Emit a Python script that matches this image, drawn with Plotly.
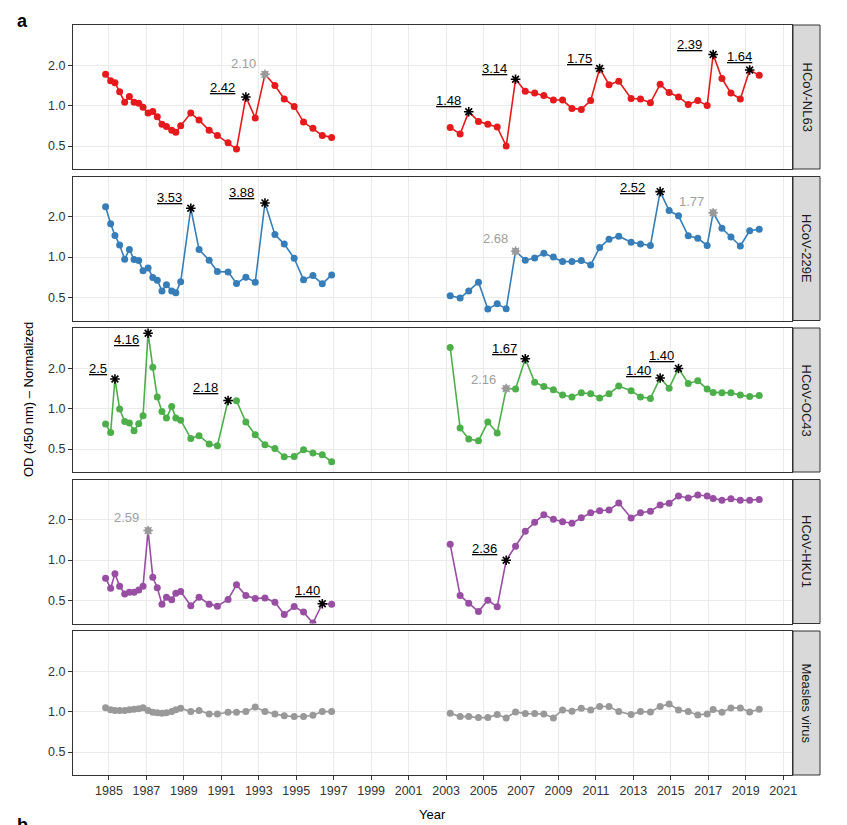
import math
import plotly.graph_objects as go
from plotly.subplots import make_subplots

# ---------------- data ----------------
DATES_EARLY = [1984.82, 1985.09, 1985.32, 1985.57, 1985.84, 1986.09, 1986.34, 1986.59, 1986.82,
               1987.09, 1987.34, 1987.58, 1987.83, 1988.07, 1988.35, 1988.57, 1988.83,
               1989.37, 1989.81, 1990.35, 1990.79, 1991.36, 1991.81, 1992.31, 1992.81,
               1993.33, 1993.86, 1994.36, 1994.89, 1995.39, 1995.89, 1996.39, 1996.89]
DATES_LATE = [2003.22, 2003.75, 2004.21, 2004.73, 2005.23, 2005.73, 2006.21, 2006.71, 2007.23,
              2007.73, 2008.22, 2008.73, 2009.22, 2009.72, 2010.22, 2010.72, 2011.20, 2011.70,
              2012.22, 2012.88, 2013.38, 2013.91, 2014.43, 2014.91, 2015.41, 2015.93, 2016.44,
              2016.94, 2017.26, 2017.73, 2018.21, 2018.71, 2019.21, 2019.72]

VIRUSES = ["HCoV-NL63", "HCoV-229E", "HCoV-OC43", "HCoV-HKU1", "Measles virus"]

NL63_EARLY = [1.71, 1.53, 1.48, 1.27, 1.06, 1.17, 1.06, 1.04, 0.97, 0.88, 0.905, 0.826, 0.725, 0.70,
              0.654, 0.632, 0.708, 0.88, 0.78, 0.654, 0.60, 0.53, 0.475, 1.16, 0.81, 1.71, 1.41,
              1.12, 0.986, 0.754, 0.677, 0.60, 0.58]
NL63_LATE = [0.688, 0.614, 0.90, 0.763, 0.725, 0.692, 0.50, 1.57, 1.28, 1.24, 1.19, 1.10, 1.10,
             0.953, 0.937, 1.09, 1.89, 1.43, 1.52, 1.13, 1.12, 1.05, 1.44, 1.25, 1.16, 1.02, 1.09,
             1.0, 2.40, 1.59, 1.24, 1.12, 1.84, 1.68]

E229_EARLY = [2.37, 1.77, 1.45, 1.23, 0.965, 1.14, 0.958, 0.942, 0.79, 0.83, 0.704, 0.673, 0.56,
              0.622, 0.56, 0.542, 0.654, 2.31, 1.137, 0.948, 0.78, 0.776, 0.636, 0.709, 0.65, 2.53,
              1.47, 1.25, 0.98, 0.677, 0.728, 0.632, 0.737]
E229_LATE = [0.515, 0.495, 0.56, 0.65, 0.41, 0.449, 0.412, 1.107, 0.948, 0.986, 1.069, 1.0, 0.926,
             0.926, 0.942, 0.875, 1.177, 1.36, 1.43, 1.29, 1.25, 1.22, 3.07, 2.22, 2.03, 1.44, 1.38,
             1.22, 2.14, 1.64, 1.41, 1.21, 1.57, 1.61]

OC43_EARLY = [0.767, 0.664, 1.66, 0.992, 0.80, 0.78, 0.684, 0.771, 0.884, 3.64, 2.03, 1.22, 0.951,
              0.85, 1.036, 0.85, 0.82, 0.60, 0.628, 0.545, 0.529, 1.149, 1.143, 0.794, 0.639, 0.538,
              0.505, 0.438, 0.44, 0.494, 0.467, 0.454, 0.402]
OC43_LATE = [2.85, 0.717, 0.593, 0.576, 0.794, 0.657, 1.41, 1.40, 2.35, 1.57, 1.46, 1.38, 1.26, 1.22,
             1.31, 1.29, 1.20, 1.29, 1.47, 1.36, 1.22, 1.19, 1.69, 1.42, 1.99, 1.54, 1.61, 1.40, 1.32,
             1.31, 1.31, 1.26, 1.23, 1.25]

HKU1_EARLY = [0.734, 0.618, 0.79, 0.64, 0.56, 0.577, 0.577, 0.60, 0.64, 1.66, 0.746, 0.622, 0.47,
              0.53, 0.506, 0.567, 0.583, 0.457, 0.53, 0.47, 0.454, 0.509, 0.654, 0.545, 0.517,
              0.523, 0.486, 0.394, 0.451, 0.41, 0.34, 0.473, 0.47]
HKU1_LATE = [1.31, 0.545, 0.478, 0.414, 0.503, 0.449, 0.997, 1.27, 1.64, 1.91, 2.18, 2.01, 1.93, 1.88,
             2.07, 2.25, 2.33, 2.36, 2.66, 2.06, 2.25, 2.31, 2.57, 2.65, 3.0, 2.9, 3.05, 3.0, 2.88,
             2.79, 2.86, 2.79, 2.79, 2.83]

MEASLES_EARLY = [1.07, 1.03, 1.02, 1.02, 1.02, 1.03, 1.04, 1.05, 1.07, 1.02, 0.99, 0.98, 0.97, 0.98,
                 1.0, 1.03, 1.06, 1.0, 1.02, 0.96, 0.96, 0.99, 0.99, 1.0, 1.08, 1.0, 0.96, 0.93,
                 0.92, 0.92, 0.94, 1.0, 1.0]
MEASLES_LATE = [0.972, 0.918, 0.918, 0.902, 0.902, 0.95, 0.897, 0.994, 0.966, 0.966, 0.961, 0.897,
                1.029, 1.006, 1.059, 1.029, 1.09, 1.09, 1.0, 0.95, 1.0, 0.994, 1.09, 1.14, 1.029,
                1.0, 0.944, 0.961, 1.035, 0.989, 1.065, 1.065, 0.994, 1.041]

SERIES = {
    "HCoV-NL63": (NL63_EARLY, NL63_LATE),
    "HCoV-229E": (E229_EARLY, E229_LATE),
    "HCoV-OC43": (OC43_EARLY, OC43_LATE),
    "HCoV-HKU1": (HKU1_EARLY, HKU1_LATE),
    "Measles virus": (MEASLES_EARLY, MEASLES_LATE),
}

# flagged peaks: (virus, period, point index, fold-change label, significant?)
PEAKS = [
    ("HCoV-NL63", 0, 23, "2.42", True),
    ("HCoV-NL63", 0, 25, "2.10", False),
    ("HCoV-NL63", 1, 2, "1.48", True),
    ("HCoV-NL63", 1, 7, "3.14", True),
    ("HCoV-NL63", 1, 16, "1.75", True),
    ("HCoV-NL63", 1, 28, "2.39", True),
    ("HCoV-NL63", 1, 32, "1.64", True),
    ("HCoV-229E", 0, 17, "3.53", True),
    ("HCoV-229E", 0, 25, "3.88", True),
    ("HCoV-229E", 1, 7, "2.68", False),
    ("HCoV-229E", 1, 22, "2.52", True),
    ("HCoV-229E", 1, 28, "1.77", False),
    ("HCoV-OC43", 0, 2, "2.5", True),
    ("HCoV-OC43", 0, 9, "4.16", True),
    ("HCoV-OC43", 0, 21, "2.18", True),
    ("HCoV-OC43", 1, 6, "2.16", False),
    ("HCoV-OC43", 1, 8, "1.67", True),
    ("HCoV-OC43", 1, 22, "1.40", True),
    ("HCoV-OC43", 1, 24, "1.40", True),
    ("HCoV-HKU1", 0, 9, "2.59", False),
    ("HCoV-HKU1", 0, 31, "1.40", True),
    ("HCoV-HKU1", 1, 6, "2.36", True),
]
# label offsets in pixels (right edge dx, centre dy; negative dy = up)
LABEL_OFFSETS = [(-9, -9), (-7, -11), (-6, -11), (-7, -11), (-6, -10), (-9, -10), (4, -14),
                 (-7, -11), (-9, -10), (-6, -13), (-13, -4), (-7, -11),
                 (-6, -11), (-7, 6), (-8, -13), (-8, -9), (-6, -10), (-7, -7), (-3, -13),
                 (-7, -13), (0, -13), (-7, -12)]

YEAR_TICKS = list(range(1985, 2022, 2))
Y_TICKS = [0.5, 1.0, 2.0]
Y_TICK_TEXT = ["0.5", "1.0", "2.0"]

# ---------------- styles ----------------
COLORS = {"HCoV-NL63": "#E41A1C", "HCoV-229E": "#377EB8", "HCoV-OC43": "#4DAF4A",
          "HCoV-HKU1": "#984EA3", "Measles virus": "#999999"}
FONT = "Liberation Sans, Arial, Helvetica, sans-serif"
GRID = "#EBEBEB"
BORDER = "#333333"
GRAY_STAR = "#9A9A9A"

W, H = 847, 825
ML, MR, MT, MB = 73, 55, 25, 50
PW, PH = W - ML - MR, H - MT - MB
PANEL_H = 144
PANEL_STEP = 151.5
XRANGE = [1983.08, 2021.47]
YRANGE = [-0.472, 0.600]

fig = make_subplots(rows=5, cols=1, shared_xaxes=True, vertical_spacing=0.01)

dates = (DATES_EARLY, DATES_LATE)
for r, virus in enumerate(VIRUSES, start=1):
    col = COLORS[virus]
    peaks_here = {(p[1], p[2]) for p in PEAKS if p[0] == virus}
    for period in (0, 1):
        xs, ys = dates[period], SERIES[virus][period]
        fig.add_trace(go.Scatter(x=xs, y=ys, mode="lines", line=dict(color=col, width=1.6),
                                 hoverinfo="skip"), row=r, col=1)
        mx = [x for i, x in enumerate(xs) if (period, i) not in peaks_here]
        my = [y for i, y in enumerate(ys) if (period, i) not in peaks_here]
        fig.add_trace(go.Scatter(x=mx, y=my, mode="markers",
                                 marker=dict(color=col, size=7, line=dict(width=0))), row=r, col=1)

annotations = []
for (virus, period, idx, label, sig), (dx, dy) in zip(PEAKS, LABEL_OFFSETS):
    r = VIRUSES.index(virus) + 1
    x = dates[period][idx]
    y = SERIES[virus][period][idx]
    if sig:
        fig.add_trace(go.Scatter(x=[x], y=[y], mode="markers",
                                 marker=dict(symbol="asterisk-open", size=8, color="black",
                                             line=dict(color="black", width=1.6))), row=r, col=1)
        txt, tcol = "<u>" + label + "</u>", "black"
    else:
        fig.add_trace(go.Scatter(x=[x], y=[y], mode="markers",
                                 marker=dict(symbol="circle", size=7, color=GRAY_STAR)), row=r, col=1)
        fig.add_trace(go.Scatter(x=[x], y=[y], mode="markers",
                                 marker=dict(symbol="asterisk-open", size=8, color=GRAY_STAR,
                                             line=dict(color=GRAY_STAR, width=1.4))), row=r, col=1)
        txt, tcol = label, "#9E9E9E"
    xref = "x" if r == 1 else f"x{r}"
    yref = "y" if r == 1 else f"y{r}"
    annotations.append(dict(x=x, y=math.log10(y), xref=xref, yref=yref, text=txt, showarrow=False,
                            xanchor="right", yanchor="middle", xshift=dx, yshift=-dy,
                            font=dict(family=FONT, size=13, color=tcol)))

layout = dict(width=W, height=H, margin=dict(l=ML, r=MR, t=MT, b=MB),
              plot_bgcolor="white", paper_bgcolor="white", showlegend=False,
              font=dict(family=FONT, size=12.5, color="#333333"))
fig.update_layout(**layout)

shapes = []
for i, virus in enumerate(VIRUSES):
    r = i + 1
    top = MT + i * PANEL_STEP
    bot = top + PANEL_H
    d0 = (H - MB - bot) / PH
    d1 = (H - MB - top) / PH
    sfx = "" if r == 1 else str(r)
    fig.layout["yaxis" + sfx].update(
        domain=[max(d0, 0), min(d1, 1)], type="log", range=YRANGE,
        tickvals=Y_TICKS, ticktext=Y_TICK_TEXT, showgrid=True, gridcolor=GRID, gridwidth=1.1,
        showline=True, mirror=True, linecolor=BORDER, linewidth=1,
        ticks="outside", ticklen=4, tickcolor=BORDER, tickwidth=1,
        tickfont=dict(size=12.5, color="#333333"), zeroline=False)
    last = (r == 5)
    fig.layout["xaxis" + sfx].update(
        range=XRANGE, tickvals=YEAR_TICKS, ticktext=[str(t) for t in YEAR_TICKS],
        showgrid=True, gridcolor=GRID, gridwidth=1.1,
        showline=True, mirror=True, linecolor=BORDER, linewidth=1,
        ticks="outside" if last else "", ticklen=4, tickcolor=BORDER, tickwidth=1,
        showticklabels=last, tickfont=dict(size=12.5, color="#333333"), zeroline=False)
    # facet strip
    sx0 = (793 - ML) / PW
    sx1 = (820 - ML) / PW
    shapes.append(dict(type="rect", xref="paper", yref="paper", x0=sx0, x1=sx1,
                       y0=max(d0, 0), y1=min(d1, 1), fillcolor="#D9D9D9",
                       line=dict(color=BORDER, width=1), layer="above"))
    annotations.append(dict(xref="paper", yref="paper", x=(sx0 + sx1) / 2, y=(d0 + d1) / 2,
                            text=virus, textangle=90, showarrow=False,
                            xanchor="center", yanchor="middle",
                            font=dict(family=FONT, size=13, color="#1A1A1A")))

annotations.append(dict(xref="paper", yref="paper", x=(28 - ML) / PW, y=(H - MB - 400) / PH,
                        text="OD (450 nm) \u2013 Normalized", textangle=-90, showarrow=False,
                        xanchor="center", yanchor="middle",
                        font=dict(family=FONT, size=13, color="black")))
annotations.append(dict(xref="paper", yref="paper", x=(432.5 - ML) / PW, y=(H - MB - 815) / PH,
                        text="Year", showarrow=False, xanchor="center", yanchor="middle",
                        font=dict(family=FONT, size=13, color="black")))
annotations.append(dict(xref="paper", yref="paper", x=(22 - ML) / PW, y=(H - MB - 21) / PH,
                        text="<b>a</b>", showarrow=False, xanchor="center", yanchor="middle",
                        font=dict(family=FONT, size=18, color="black")))
annotations.append(dict(xref="paper", yref="paper", x=(22 - ML) / PW, y=(H - MB - 813) / PH,
                        text="<b>b</b>", showarrow=False, xanchor="center", yanchor="top",
                        font=dict(family=FONT, size=18, color="black")))

fig.update_layout(shapes=shapes, annotations=annotations)
fig.write_html("out.html")
